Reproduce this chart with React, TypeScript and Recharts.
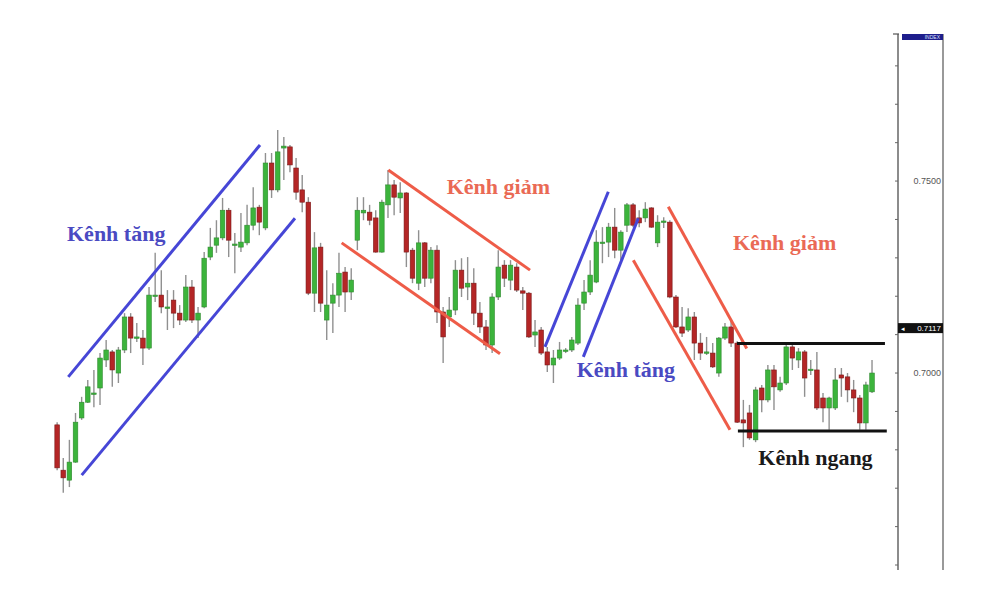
import React from 'react';
import { ComposedChart, Bar, XAxis, YAxis, ReferenceLine, Scatter } from 'recharts';

// ---- candle data (index 1..134) ----
const opens = [
  0.6865, 0.6747, 0.6721, 0.6768, 0.6883, 0.6924, 0.6945, 0.6961, 0.7034, 0.7055,
  0.7000, 0.7060, 0.7146, 0.7091, 0.7091, 0.7065, 0.7201, 0.7203, 0.7169, 0.7190,
  0.7156, 0.7138, 0.7224, 0.7138, 0.7172, 0.7302, 0.7333, 0.7352, 0.7424, 0.7333,
  0.7328, 0.7339, 0.7385, 0.7432, 0.7378, 0.7547, 0.7477, 0.7586, 0.7589, 0.7534,
  0.7477, 0.7445, 0.7208, 0.7328, 0.7138, 0.7182, 0.7203, 0.7263, 0.7211, 0.7346,
  0.7417, 0.7419, 0.7404, 0.7315, 0.7438, 0.7490, 0.7456, 0.7469, 0.7320, 0.7234,
  0.7339, 0.7247, 0.7320, 0.7159, 0.7146, 0.7164, 0.7268, 0.7224, 0.7234, 0.7156,
  0.7120, 0.7073, 0.7198, 0.7281, 0.7242, 0.7276, 0.7214, 0.7208, 0.7099, 0.7112,
  0.7055, 0.7021, 0.7039, 0.7057, 0.7060, 0.7078, 0.7182, 0.7211, 0.7237, 0.7339,
  0.7341, 0.7380, 0.7320, 0.7385, 0.7438, 0.7404, 0.7404, 0.7430, 0.7339, 0.7393,
  0.7393, 0.7198, 0.7120, 0.7112, 0.7146, 0.7078, 0.7052, 0.7052, 0.7000, 0.7091,
  0.7120, 0.7078, 0.6878, 0.6896, 0.6826, 0.6961, 0.6930, 0.7008, 0.6956, 0.6974,
  0.7068, 0.7034, 0.7055, 0.7008, 0.7008, 0.6935, 0.6909, 0.6909, 0.6995, 0.6990,
  0.6956, 0.6935, 0.6870, 0.6951,
];
const highs = [
  0.6872, 0.6779, 0.6826, 0.6896, 0.6938, 0.6982, 0.7008, 0.7052, 0.7086, 0.7060,
  0.7068, 0.7156, 0.7156, 0.7130, 0.7112, 0.7224, 0.7313, 0.7268, 0.7216, 0.7216,
  0.7177, 0.7255, 0.7242, 0.7172, 0.7315, 0.7378, 0.7398, 0.7456, 0.7430, 0.7365,
  0.7417, 0.7438, 0.7484, 0.7438, 0.7573, 0.7573, 0.7633, 0.7615, 0.7594, 0.7560,
  0.7516, 0.7458, 0.7367, 0.7339, 0.7268, 0.7234, 0.7313, 0.7276, 0.7273, 0.7458,
  0.7458, 0.7438, 0.7424, 0.7451, 0.7529, 0.7503, 0.7497, 0.7471, 0.7326, 0.7372,
  0.7341, 0.7328, 0.7333, 0.7172, 0.7198, 0.7294, 0.7299, 0.7302, 0.7273, 0.7185,
  0.7138, 0.7208, 0.7320, 0.7294, 0.7294, 0.7286, 0.7224, 0.7211, 0.7138, 0.7120,
  0.7068, 0.7060, 0.7081, 0.7065, 0.7094, 0.7195, 0.7242, 0.7294, 0.7372, 0.7380,
  0.7391, 0.7430, 0.7372, 0.7443, 0.7443, 0.7424, 0.7445, 0.7432, 0.7411, 0.7406,
  0.7398, 0.7203, 0.7172, 0.7169, 0.7159, 0.7104, 0.7094, 0.7078, 0.7094, 0.7130,
  0.7138, 0.7083, 0.6930, 0.6917, 0.6964, 0.6969, 0.7021, 0.7021, 0.6990, 0.7073,
  0.7073, 0.7065, 0.7060, 0.7034, 0.7055, 0.6948, 0.6938, 0.7013, 0.7013, 0.7000,
  0.6982, 0.6943, 0.6977, 0.7034,
];
const lows = [
  0.6747, 0.6688, 0.6703, 0.6766, 0.6878, 0.6922, 0.6911, 0.6917, 0.7016, 0.6964,
  0.6974, 0.7052, 0.7052, 0.7081, 0.7021, 0.7060, 0.7185, 0.7156, 0.7112, 0.7117,
  0.7125, 0.7133, 0.7130, 0.7091, 0.7169, 0.7294, 0.7313, 0.7346, 0.7302, 0.7260,
  0.7315, 0.7333, 0.7372, 0.7359, 0.7372, 0.7456, 0.7471, 0.7503, 0.7523, 0.7451,
  0.7419, 0.7203, 0.7159, 0.7159, 0.7086, 0.7104, 0.7172, 0.7159, 0.7190, 0.7320,
  0.7398, 0.7385, 0.7313, 0.7313, 0.7404, 0.7411, 0.7417, 0.7276, 0.7234, 0.7216,
  0.7224, 0.7234, 0.7130, 0.7026, 0.7120, 0.7151, 0.7198, 0.7190, 0.7125, 0.7104,
  0.7060, 0.7052, 0.7190, 0.7224, 0.7216, 0.7211, 0.7164, 0.7091, 0.7068, 0.7047,
  0.7003, 0.6974, 0.7034, 0.7052, 0.7055, 0.7073, 0.7164, 0.7203, 0.7234, 0.7286,
  0.7302, 0.7299, 0.7294, 0.7367, 0.7380, 0.7380, 0.7393, 0.7378, 0.7328, 0.7378,
  0.7195, 0.7117, 0.7094, 0.7107, 0.7034, 0.7034, 0.7047, 0.7013, 0.6990, 0.7086,
  0.7068, 0.6870, 0.6807, 0.6826, 0.6820, 0.6898, 0.6924, 0.6904, 0.6951, 0.6969,
  0.7008, 0.7013, 0.6938, 0.6995, 0.6904, 0.6872, 0.6852, 0.6904, 0.6938, 0.6924,
  0.6898, 0.6852, 0.6852, 0.6948,
];
const closes = [
  0.6753, 0.6727, 0.6768, 0.6872, 0.6924, 0.6964, 0.6948, 0.7039, 0.7060, 0.7008,
  0.7060, 0.7146, 0.7091, 0.7094, 0.7065, 0.7203, 0.7203, 0.7172, 0.7172, 0.7156,
  0.7138, 0.7224, 0.7138, 0.7156, 0.7299, 0.7328, 0.7352, 0.7424, 0.7346, 0.7336,
  0.7341, 0.7385, 0.7430, 0.7393, 0.7547, 0.7477, 0.7576, 0.7591, 0.7542, 0.7471,
  0.7445, 0.7208, 0.7326, 0.7182, 0.7177, 0.7203, 0.7260, 0.7211, 0.7242, 0.7424,
  0.7424, 0.7398, 0.7315, 0.7445, 0.7490, 0.7458, 0.7469, 0.7315, 0.7247, 0.7339,
  0.7247, 0.7320, 0.7159, 0.7094, 0.7164, 0.7268, 0.7221, 0.7234, 0.7156, 0.7120,
  0.7073, 0.7198, 0.7276, 0.7247, 0.7281, 0.7216, 0.7208, 0.7094, 0.7107, 0.7052,
  0.7021, 0.7039, 0.7060, 0.7060, 0.7086, 0.7177, 0.7211, 0.7255, 0.7341, 0.7341,
  0.7380, 0.7320, 0.7367, 0.7438, 0.7385, 0.7391, 0.7427, 0.7380, 0.7393, 0.7396,
  0.7198, 0.7120, 0.7104, 0.7146, 0.7078, 0.7052, 0.7055, 0.7016, 0.7091, 0.7120,
  0.7078, 0.6872, 0.6870, 0.6831, 0.6956, 0.6930, 0.7008, 0.6964, 0.6974, 0.7068,
  0.7039, 0.7055, 0.6987, 0.7010, 0.6909, 0.6909, 0.6935, 0.6982, 0.6987, 0.6956,
  0.6935, 0.6870, 0.6969, 0.7000,
];

// ---- axis ----
const yDomain = [0.6487, 0.7883];
const xDomain = [-7.03, 138.23];
const yTicks = [0.65, 0.66, 0.67, 0.68, 0.69, 0.7, 0.71, 0.72, 0.73, 0.74, 0.75, 0.76, 0.77, 0.78];
const labeledTicks = [0.7, 0.75];
const currentPrice = 0.7117;
const currentPriceLabel = '0.7117';
const symbolLabel = 'INDEX';

// ---- channel lines: (candle index, price) ----
const channelKinds = ['up', 'up', 'down', 'down', 'up', 'up', 'down', 'down', 'flat', 'flat'];
const channelStart = [
  [2.81, 0.699], [5.0, 0.6734], [55.04, 0.7529], [47.43, 0.7339], [80.61, 0.7068],
  [86.87, 0.7042], [100.74, 0.7433], [95.03, 0.7294], [111.95, 0.7077], [112.1, 0.6849],
];
const channelEnd = [
  [34.1, 0.7594], [39.81, 0.7403], [78.17, 0.7268], [73.27, 0.705], [90.95, 0.7472],
  [95.84, 0.7403], [113.54, 0.7064], [110.81, 0.6852], [136.1, 0.7077], [136.4, 0.6849],
];

// ---- annotations ----
const noteTexts = ['Kênh tăng', 'Kênh giảm', 'Kênh tăng', 'Kênh giảm', 'Kênh ngang'];
const noteKinds = ['up', 'down', 'up', 'down', 'flat'];
const noteX = [2.6, 64.57, 85.79, 111.3, 115.43];
const noteY = [0.7344, 0.7466, 0.699, 0.732, 0.676];

const LINE_COLORS: Record<string, string> = { up: '#4646d6', down: '#ee5c48', flat: '#111111' };
const TEXT_COLORS: Record<string, string> = { up: '#4a4ac2', down: '#ea6a55', flat: '#1a1a1a' };
const BODY_WIDTH = 4.6;

const candles = opens.map((o, k) => ({
  i: k + 1,
  open: o,
  high: highs[k],
  low: lows[k],
  close: closes[k],
}));

const notes = noteTexts.map((t, k) => ({ i: noteX[k], p: noteY[k], text: t, kind: noteKinds[k] }));

const Candle = (props: any) => {
  const { x, y, width, height, payload } = props;
  if (!payload || x == null) return null;
  const { open, close, high, low } = payload;
  const top = Math.min(y, y + height);
  const h = Math.abs(height);
  const range = high - low || 1e-9;
  const yOf = (v: number) => top + ((high - v) / range) * h;
  const cx = x + width / 2;
  const up = close >= open;
  const bTop = yOf(Math.max(open, close));
  const bBot = yOf(Math.min(open, close));
  return (
    <g>
      <line x1={cx} x2={cx} y1={top} y2={top + h} stroke="#909090" strokeWidth={1.4} />
      <rect
        x={cx - BODY_WIDTH / 2}
        y={bTop}
        width={BODY_WIDTH}
        height={Math.max(bBot - bTop, 1.4)}
        fill={up ? '#3cb43c' : '#b42626'}
        stroke={up ? '#2f8a2f' : '#7a1818'}
        strokeWidth={0.6}
      />
    </g>
  );
};

const NoteShape = (props: any) => {
  const { cx, cy, payload } = props;
  if (cx == null || cy == null) return null;
  return (
    <text
      x={cx}
      y={cy}
      fill={TEXT_COLORS[payload.kind]}
      fontFamily="'Liberation Serif', 'DejaVu Serif', serif"
      fontWeight="bold"
      fontSize={22}
      textAnchor="start"
    >
      {payload.text}
    </text>
  );
};

const PriceTick = (props: any) => {
  const { x, y, payload } = props;
  const v = payload.value;
  if (Math.abs(v - currentPrice) < 1e-6) {
    return (
      <g>
        <rect x={x} y={y - 5} width={45} height={10} fill="#111" />
        <text x={x + 3} y={y + 3} fontSize={7} fill="#fff" fontFamily="'DejaVu Sans', sans-serif">
          ◂
        </text>
        <text
          x={x + 43}
          y={y + 3}
          fontSize={8}
          fill="#fff"
          textAnchor="end"
          fontFamily="'Liberation Sans', Arial, sans-serif"
        >
          {currentPriceLabel}
        </text>
      </g>
    );
  }
  if (Math.abs(v - yDomain[1]) < 1e-6) {
    return (
      <g>
        <line x1={x - 5} x2={x + 1} y1={y} y2={y} stroke="#555" strokeWidth={1.2} />
        <rect x={x + 4} y={y} width={41} height={6} fill="#1e1e8c" />
        <text
          x={x + 42}
          y={y + 5}
          fontSize={5}
          fill="#dfe3ff"
          textAnchor="end"
          fontFamily="'Liberation Sans', Arial, sans-serif"
        >
          {symbolLabel}
        </text>
      </g>
    );
  }
  const labeled = labeledTicks.some((t) => Math.abs(t - v) < 1e-6);
  return (
    <g>
      <line x1={x - 3} x2={x} y1={y} y2={y} stroke="#666" strokeWidth={1} />
      {labeled && (
        <text
          x={x + 43}
          y={y + 3}
          fontSize={9}
          fill="#555"
          textAnchor="end"
          fontFamily="'Liberation Sans', Arial, sans-serif"
        >
          {v.toFixed(4)}
        </text>
      )}
    </g>
  );
};

export default function App() {
  const ticks = [...yTicks, currentPrice, yDomain[1]];
  return (
    <div style={{ width: 984, height: 584, background: '#fff' }}>
      <ComposedChart
        width={984}
        height={584}
        data={candles}
        margin={{ top: 26, right: 39, bottom: 22, left: 0 }}
      >
        <XAxis type="number" dataKey="i" domain={xDomain} allowDataOverflow hide />
        <YAxis
          orientation="right"
          type="number"
          domain={yDomain}
          allowDataOverflow
          ticks={ticks}
          interval={0}
          width={45}
          tickSize={0}
          tickMargin={0}
          tick={<PriceTick />}
          axisLine={{ stroke: '#666', strokeWidth: 1.5 }}
          tickLine={false}
        />
        <YAxis
          yAxisId="frame"
          orientation="right"
          type="number"
          domain={yDomain}
          width={10}
          tick={false}
          tickLine={false}
          axisLine={{ stroke: '#777', strokeWidth: 1.5 }}
        />
        <Bar
          dataKey={(d: any) => [d.low, d.high]}
          barSize={6}
          shape={<Candle />}
          isAnimationActive={false}
        />
        {channelKinds.map((kind, k) => (
          <ReferenceLine
            key={k}
            segment={[
              { x: channelStart[k][0], y: channelStart[k][1] },
              { x: channelEnd[k][0], y: channelEnd[k][1] },
            ]}
            stroke={LINE_COLORS[kind]}
            strokeWidth={3}
            ifOverflow="visible"
          />
        ))}
        <Scatter data={notes} dataKey="p" shape={<NoteShape />} isAnimationActive={false} />
      </ComposedChart>
    </div>
  );
}
